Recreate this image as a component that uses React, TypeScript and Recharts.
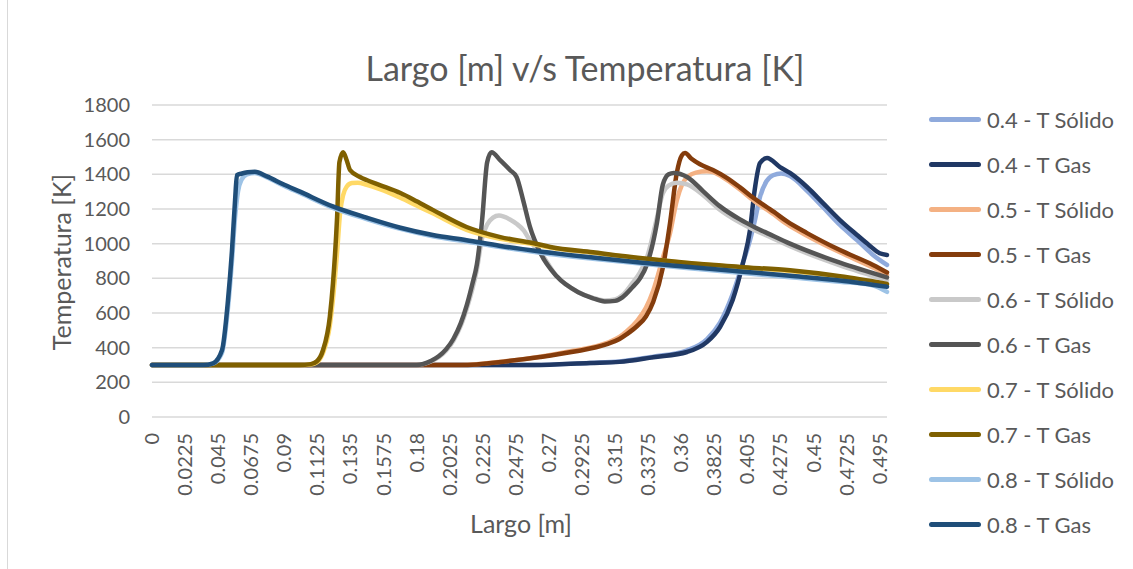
import React from 'react';
import { LineChart, Line, XAxis, YAxis, CartesianGrid } from 'recharts';

// [largo (m), temperatura (K)]
const solid04: [number, number][] = [
  [0, 300], [0.26, 300], [0.298, 312], [0.318, 320], [0.341, 348], [0.364, 385], [0.3776, 450],
  [0.3864, 545], [0.395, 710], [0.402, 890], [0.4068, 1020], [0.41, 1130], [0.4136, 1270],
  [0.418, 1360], [0.4225, 1395], [0.428, 1405], [0.434, 1390], [0.4456, 1305], [0.4565, 1210],
  [0.468, 1108], [0.4796, 1020], [0.4905, 935], [0.5, 877],
];
const gas04: [number, number][] = [
  [0, 300], [0.26, 300], [0.298, 312], [0.318, 318], [0.341, 345], [0.364, 375], [0.3776, 433],
  [0.3864, 519], [0.395, 675], [0.402, 888], [0.4068, 1079], [0.41, 1310], [0.4136, 1465],
  [0.4184, 1494], [0.4272, 1442], [0.434, 1408], [0.4456, 1327], [0.4565, 1234], [0.468, 1136],
  [0.4796, 1050], [0.488, 990], [0.495, 945], [0.5, 935],
];
const solid05: [number, number][] = [
  [0, 300], [0.21, 300], [0.2415, 323], [0.264, 348], [0.2864, 382], [0.3095, 428], [0.318, 462],
  [0.323, 495], [0.33, 555], [0.336, 630], [0.341, 730], [0.3476, 920], [0.3524, 1060],
  [0.357, 1250], [0.3605, 1340], [0.365, 1390], [0.37, 1410], [0.3775, 1418], [0.3816, 1413],
  [0.391, 1368], [0.4, 1312], [0.409, 1250], [0.4231, 1168], [0.432, 1112], [0.4456, 1046],
  [0.468, 950], [0.4905, 862], [0.5, 820],
];
const gas05: [number, number][] = [
  [0, 300], [0.21, 300], [0.2415, 322], [0.264, 346], [0.2864, 376], [0.3095, 420], [0.318, 450],
  [0.323, 478], [0.33, 525], [0.336, 580], [0.341, 665], [0.3476, 865], [0.3524, 1119],
  [0.357, 1408], [0.3605, 1510], [0.3626, 1523], [0.367, 1490], [0.3728, 1458], [0.3816, 1425],
  [0.391, 1380], [0.4, 1325], [0.409, 1265], [0.4231, 1183], [0.432, 1128], [0.4456, 1061],
  [0.468, 963], [0.4905, 877], [0.5, 834],
];
const solid06: [number, number][] = [
  [0, 300], [0.18, 300], [0.19, 322], [0.195, 345], [0.2, 382], [0.205, 440], [0.21, 525],
  [0.2143, 630], [0.218, 740], [0.221, 850], [0.2245, 1030], [0.228, 1110], [0.232, 1150],
  [0.236, 1162], [0.2435, 1140], [0.248, 1115], [0.253, 1075], [0.257, 1020], [0.261, 975],
  [0.264, 950], [0.2755, 810], [0.29, 720], [0.3, 687], [0.308, 672], [0.315, 678], [0.32, 702],
  [0.327, 775], [0.332, 835], [0.3367, 920], [0.3435, 1150], [0.3475, 1290], [0.352, 1338],
  [0.357, 1352], [0.364, 1342], [0.375, 1280], [0.386, 1198], [0.4, 1122], [0.41, 1078],
  [0.42, 1040], [0.434, 985], [0.468, 875], [0.5, 790],
];
const gas06: [number, number][] = [
  [0, 300], [0.18, 300], [0.19, 325], [0.195, 350], [0.2, 390], [0.205, 450], [0.21, 540],
  [0.2143, 650], [0.218, 770], [0.221, 880], [0.2245, 1130], [0.228, 1470], [0.231, 1528],
  [0.237, 1480], [0.2435, 1425], [0.248, 1385], [0.2525, 1250], [0.257, 1100], [0.264, 950],
  [0.2755, 810], [0.29, 720], [0.3, 685], [0.308, 667], [0.315, 670], [0.32, 690], [0.327, 750],
  [0.332, 800], [0.3367, 880], [0.3435, 1120], [0.3475, 1340], [0.3515, 1400], [0.355, 1408],
  [0.364, 1385], [0.375, 1302], [0.386, 1218], [0.4, 1140], [0.41, 1095], [0.42, 1055],
  [0.434, 1000], [0.468, 890], [0.5, 805],
];
const solid07: [number, number][] = [
  [0, 300], [0.1, 300], [0.108, 303], [0.112, 315], [0.1163, 370], [0.121, 530], [0.1231, 680],
  [0.1259, 950], [0.128, 1180], [0.13, 1280], [0.1325, 1330], [0.136, 1350], [0.14, 1352],
  [0.146, 1340], [0.155, 1315], [0.169, 1265], [0.18, 1220], [0.191, 1175], [0.214, 1080],
  [0.237, 1028], [0.259, 998], [0.271, 977], [0.3, 947], [0.332, 915], [0.36, 891], [0.4, 862],
  [0.434, 842], [0.468, 808], [0.5, 765],
];
const gas07: [number, number][] = [
  [0, 300], [0.1, 300], [0.108, 305], [0.112, 320], [0.1163, 385], [0.121, 580], [0.1231, 770],
  [0.1259, 1150], [0.1275, 1470], [0.13, 1528], [0.1325, 1480], [0.1347, 1425], [0.1415, 1385],
  [0.146, 1367], [0.155, 1338], [0.169, 1292], [0.18, 1245], [0.191, 1195], [0.214, 1096],
  [0.237, 1038], [0.259, 1004], [0.271, 981], [0.3, 950], [0.332, 917], [0.36, 893], [0.4, 866],
  [0.434, 846], [0.468, 812], [0.5, 768],
];
const solid08: [number, number][] = [
  [0, 300], [0.035, 300], [0.0415, 308], [0.0476, 370], [0.0517, 630], [0.0544, 900],
  [0.0565, 1150], [0.0585, 1300], [0.061, 1370], [0.0646, 1400], [0.07, 1408], [0.0782, 1382],
  [0.09, 1333], [0.1007, 1292], [0.123, 1207], [0.146, 1142], [0.169, 1085], [0.191, 1043],
  [0.214, 1012], [0.237, 980], [0.264, 948], [0.3, 913], [0.332, 885], [0.36, 862], [0.4, 832],
  [0.434, 806], [0.468, 780], [0.49, 760], [0.5, 722],
];
const gas08: [number, number][] = [
  [0, 300], [0.035, 300], [0.0415, 310], [0.0476, 385], [0.0517, 675], [0.0544, 960],
  [0.0565, 1250], [0.0578, 1395], [0.0612, 1405], [0.065, 1412], [0.07, 1415], [0.0782, 1388],
  [0.09, 1340], [0.1007, 1300], [0.123, 1215], [0.146, 1150], [0.169, 1092], [0.191, 1050],
  [0.214, 1020], [0.237, 987], [0.264, 955], [0.3, 920], [0.332, 892], [0.36, 870], [0.4, 840],
  [0.434, 815], [0.468, 788], [0.5, 752],
];

const xTicks = [
  0, 0.0225, 0.045, 0.0675, 0.09, 0.1125, 0.135, 0.1575, 0.18, 0.2025, 0.225, 0.2475, 0.27,
  0.2925, 0.315, 0.3375, 0.36, 0.3825, 0.405, 0.4275, 0.45, 0.4725, 0.495,
];
const yTicks = [0, 200, 400, 600, 800, 1000, 1200, 1400, 1600, 1800];

const series = [
  { name: '0.4 - T Sólido', color: '#8FAADC', pts: solid04 },
  { name: '0.4 - T Gas', color: '#203864', pts: gas04 },
  { name: '0.5 - T Sólido', color: '#F4B183', pts: solid05 },
  { name: '0.5 - T Gas', color: '#843C0C', pts: gas05 },
  { name: '0.6 - T Sólido', color: '#C9C9C9', pts: solid06 },
  { name: '0.6 - T Gas', color: '#555555', pts: gas06 },
  { name: '0.7 - T Sólido', color: '#FFD966', pts: solid07 },
  { name: '0.7 - T Gas', color: '#7F6000', pts: gas07 },
  { name: '0.8 - T Sólido', color: '#9DC3E6', pts: solid08 },
  { name: '0.8 - T Gas', color: '#1F4E79', pts: gas08 },
];

const FONT = 'Lato, "Open Sans", sans-serif';
const TEXT = '#595959';

const XTick = ({ x, y, payload }: any) => (
  <text
    x={x}
    y={y}
    transform={`rotate(-90, ${x}, ${y})`}
    textAnchor="end"
    dy="0.35em"
    fill={TEXT}
    fontSize={20}
    fontFamily={FONT}
  >
    {String(payload.value)}
  </text>
);

export default function App() {
  return (
    <div
      style={{
        position: 'absolute',
        left: 0,
        top: 0,
        width: 1133,
        height: 569,
        background: '#fff',
        fontFamily: FONT,
        overflow: 'hidden',
      }}
    >
      <div style={{ position: 'absolute', left: 7, top: -2, width: 1200, height: 580, border: '1px solid #d9d9d9' }} />
      <div
        style={{
          position: 'absolute',
          left: 0,
          width: 1170,
          top: 48,
          textAlign: 'center',
          fontSize: 34,
          color: TEXT,
          lineHeight: '40px',
        }}
      >
        Largo [m] v/s Temperatura [K]
      </div>
      <div
        style={{
          position: 'absolute',
          left: 61,
          top: 262,
          transform: 'translate(-50%, -50%) rotate(-90deg)',
          fontSize: 25,
          color: TEXT,
          whiteSpace: 'nowrap',
        }}
      >
        Temperatura [K]
      </div>
      <div
        style={{
          position: 'absolute',
          left: 521,
          top: 523,
          transform: 'translate(-50%, -50%)',
          fontSize: 25,
          color: TEXT,
          whiteSpace: 'nowrap',
        }}
      >
        Largo [m]
      </div>

      <div style={{ position: 'absolute', left: 0, top: 0 }}>
        <LineChart width={1133} height={569} margin={{ top: 105, right: 246, bottom: 72, left: 92 }}>
          <CartesianGrid vertical={false} stroke="#d9d9d9" strokeWidth={1.5} />
          <XAxis
            type="number"
            dataKey="x"
            domain={[0, 0.5]}
            ticks={xTicks}
            interval={0}
            axisLine={false}
            tickLine={false}
            tickSize={0}
            tickMargin={16}
            height={80}
            tick={<XTick />}
          />
          <YAxis
            type="number"
            domain={[0, 1800]}
            ticks={yTicks}
            interval={0}
            axisLine={false}
            tickLine={false}
            tickSize={0}
            tickMargin={22}
            width={60}
            tick={{ fontSize: 20, fill: TEXT, fontFamily: FONT }}
          />
          {series.map((s) => (
            <Line
              key={s.name}
              data={s.pts.map(([x, y]) => ({ x, y }))}
              dataKey="y"
              name={s.name}
              type="monotone"
              stroke={s.color}
              strokeWidth={4.5}
              strokeLinecap="round"
              strokeLinejoin="round"
              dot={false}
              activeDot={false}
              isAnimationActive={false}
            />
          ))}
        </LineChart>
      </div>

      <div style={{ position: 'absolute', left: 929, top: 97 }}>
        {series.map((s) => (
          <div key={s.name} style={{ display: 'flex', alignItems: 'center', height: 45 }}>
            <div style={{ width: 52, height: 5, borderRadius: 3, background: s.color }} />
            <span style={{ marginLeft: 6, fontSize: 22, color: TEXT, whiteSpace: 'nowrap' }}>{s.name}</span>
          </div>
        ))}
      </div>
    </div>
  );
}
